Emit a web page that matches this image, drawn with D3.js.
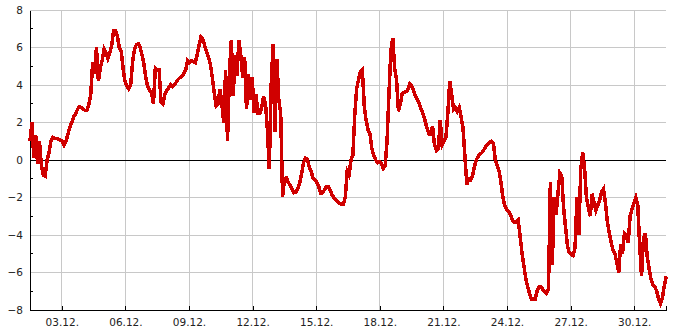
<!DOCTYPE html>
<meta charset="utf-8">
<style>
  html, body { margin: 0; padding: 0; background: #fff; }
  svg { display: block; }
  text { font-family: "DejaVu Sans", sans-serif; font-size: 10.5px; fill: #222; }
  .grid line { stroke: #c8c8c8; stroke-width: 1px; shape-rendering: crispEdges; }
  .temp { fill: none; stroke: #d00000; stroke-width: 3.5px; stroke-linejoin: miter; shape-rendering: crispEdges; }
</style>
<svg id="chart" width="685" height="330"></svg>
<script src="https://cdn.jsdelivr.net/npm/d3@7"></script>
<script>

  // one reading every 129 minutes, first one at 01.12. 12:00
  let startTime = Date.UTC(2010, 11, 1, 12)
  let stepMinutes = 129
  let temps = [
    1.0, 2.0, 0.1, 1.3, -0.2, 1.0, -0.3, -0.8, -0.85, 0.0,
    0.4, 1.0, 1.2, 1.15, 1.15, 1.1, 1.05, 1.0, 0.8, 1.0,
    1.4, 1.75, 2.0, 2.3, 2.45, 2.7, 2.85, 2.8, 2.7, 2.65,
    2.65, 2.95, 3.5, 5.2, 4.6, 6.0, 4.2, 4.9, 5.3, 5.9,
    5.7, 5.4, 5.7, 6.1, 6.9, 6.9, 6.6, 6.0, 5.8, 4.9,
    4.2, 3.95, 3.8, 4.0, 5.2, 5.9, 6.15, 6.2, 6.0, 5.6,
    5.1, 4.4, 3.9, 3.7, 3.6, 3.0, 4.9, 4.8, 4.8, 3.1,
    3.0, 3.5, 3.7, 3.85, 4.0, 3.9, 4.0, 4.15, 4.3, 4.4,
    4.45, 4.6, 4.8, 5.3, 5.2, 5.3, 5.25, 5.2, 5.6, 6.1,
    6.55, 6.45, 6.1, 5.75, 5.5, 5.1, 4.4, 3.6, 2.9, 3.0,
    3.8, 3.0, 2.0, 4.8, 1.0, 4.6, 6.4, 3.4, 5.6, 4.5,
    6.4, 5.6, 4.4, 5.5, 2.7, 4.6, 3.2, 4.4, 2.5, 3.5,
    2.5, 2.5, 2.8, 3.4, 3.0, 1.6, -0.5, 4.0, 6.2, 1.5,
    5.4, 3.2, 2.5, -1.95, -1.0, -0.95, -1.2, -1.35, -1.55, -1.75,
    -1.7, -1.55, -1.25, -0.75, -0.15, 0.1, 0.05, -0.35, -0.6, -0.95,
    -1.05, -1.2, -1.4, -1.75, -1.75, -1.6, -1.4, -1.4, -1.6, -1.85,
    -2.0, -2.1, -2.2, -2.3, -2.35, -2.35, -2.0, -0.6, -0.8, 0.0,
    0.25, 2.4, 3.8, 4.3, 4.7, 4.8, 2.9, 2.1, 1.6, 1.4,
    0.6, 0.25, 0.0, -0.15, -0.1, -0.2, -0.45, -0.3, 1.0, 3.5,
    5.8, 6.5, 4.9, 4.3, 2.6, 3.0, 3.55, 3.6, 3.65, 3.75,
    4.05, 3.95, 3.7, 3.4, 3.2, 3.0, 2.7, 2.45, 2.1, 1.7,
    1.4, 1.4, 1.8, 0.8, 0.5, 0.6, 2.1, 0.8, 1.0, 1.2,
    2.5, 4.2, 3.5, 2.7, 2.8, 2.6, 2.8, 2.3, 1.7, 0.2,
    -1.3, -1.0, -1.05, -0.85, -0.35, 0.0, 0.2, 0.3, 0.4, 0.55,
    0.72, 0.82, 0.95, 1.0, 0.9, 0.0, -0.3, -0.6, -1.2, -2.0,
    -2.45, -2.65, -2.75, -2.9, -3.2, -3.3, -3.3, -3.2, -4.0, -4.9,
    -5.6, -6.3, -6.75, -7.1, -7.4, -7.4, -7.4, -7.0, -6.75, -6.75,
    -6.9, -7.0, -7.1, -6.9, -1.2, -5.6, -2.0, -2.9, -1.8, -0.7,
    -0.9, -2.6, -3.6, -4.6, -4.95, -5.05, -5.1, -4.7, -2.0, -4.0,
    -0.5, 0.4, -0.4, -2.0, -2.5, -3.0, -1.8, -2.3, -2.7, -2.4,
    -2.1, -1.7, -1.55, -2.3, -3.3, -3.9, -4.4, -4.8, -5.0, -5.5,
    -6.0, -4.5, -5.0, -3.9, -4.0, -4.4, -3.0, -2.6, -2.3, -2.0,
    -2.4, -4.5, -6.2, -4.2, -3.9, -5.15, -5.8, -6.35, -6.65, -6.75,
    -7.0, -7.4, -7.65, -7.35, -6.7, -6.2
  ]

  let tickDays = [3, 6, 9, 12, 15, 18, 21, 24, 27, 30]
  let yTicks = [-8, -6, -4, -2, 0, 2, 4, 6, 8]
  let yMinorTicks = [-7, -5, -3, -1, 1, 3, 5, 7]

  let margin = {top: 10, right: 19, bottom: 20, left: 30}
  let svg = d3.select("#chart")
  let width = +svg.attr("width") - margin.left - margin.right
  let height = +svg.attr("height") - margin.top - margin.bottom

  let data = temps.map((t, i) => ({date: new Date(startTime + i * stepMinutes * 60e3), value: t}))

  let x = d3.scaleUtc()
    .domain([new Date(Date.UTC(2010, 11, 1, 12)), new Date(Date.UTC(2010, 11, 31, 12))])
    .range([0, width])

  let y = d3.scaleLinear()
    .domain([-8, 8])
    .range([height, 0])

  let tickDates = tickDays.map(d => new Date(Date.UTC(2010, 11, d)))

  let g = svg.append("g")
    .attr("transform", `translate(${margin.left},${margin.top})`)

  // grid
  g.append("g").attr("class", "grid")
    .selectAll("line").data(yTicks.filter(v => v !== 0 && v !== -8)).join("line")
    .attr("x1", 0).attr("x2", width)
    .attr("y1", d => y(d)).attr("y2", d => y(d))

  g.append("g").attr("class", "grid")
    .selectAll("line").data(tickDates).join("line")
    .attr("x1", d => x(d)).attr("x2", d => x(d))
    .attr("y1", 0).attr("y2", height)

  // zero line
  g.append("line")
    .attr("x1", 0).attr("x2", width)
    .attr("y1", y(0)).attr("y2", y(0))
    .attr("stroke", "#000").attr("shape-rendering", "crispEdges")

  // y axis
  let yAxis = g.append("g")
    .call(d3.axisLeft(y).tickValues(yTicks).tickSize(0).tickPadding(7))
  yAxis.select(".domain").attr("stroke", "#000").attr("shape-rendering", "crispEdges")
  yAxis.selectAll("text").attr("fill", "#222").style("font-family", "DejaVu Sans").style("font-size", "10.5px")

  g.append("g")
    .selectAll("line").data(yMinorTicks).join("line")
    .attr("x1", 0).attr("x2", 3)
    .attr("y1", d => y(d)).attr("y2", d => y(d))
    .attr("stroke", "#000").attr("shape-rendering", "crispEdges")

  // x axis
  let xAxis = g.append("g")
    .attr("transform", `translate(0,${height})`)
    .call(d3.axisBottom(x).tickValues(tickDates).tickSize(-4).tickPadding(9)
      .tickFormat(d3.utcFormat("%d.%m.")))
  xAxis.select(".domain").attr("stroke", "#000").attr("shape-rendering", "crispEdges")
  xAxis.selectAll(".tick line").attr("stroke", "#000").attr("shape-rendering", "crispEdges")
  xAxis.selectAll("text").attr("fill", "#222").style("font-family", "DejaVu Sans").style("font-size", "10.5px")

  // top grid line (8)
  g.append("line")
    .attr("x1", 0).attr("x2", width)
    .attr("y1", y(8)).attr("y2", y(8))
    .attr("stroke", "#c8c8c8").attr("shape-rendering", "crispEdges")

  let line = d3.line()
    .x(d => x(d.date))
    .y(d => y(d.value))

  g.append("path")
    .datum(data)
    .attr("class", "temp")
    .attr("d", line)

</script>
